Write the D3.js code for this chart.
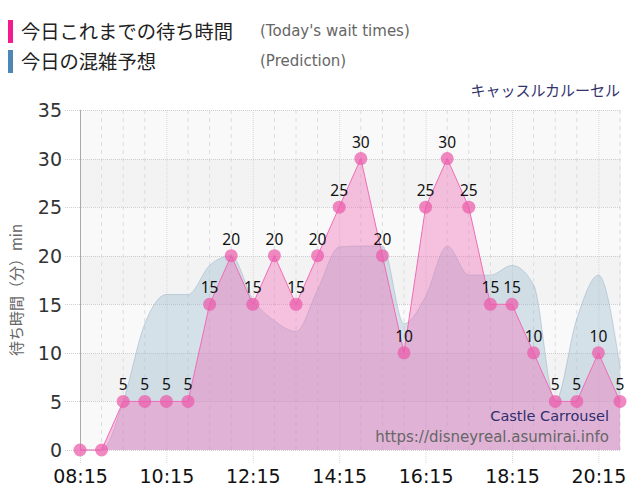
<!DOCTYPE html>
<html><head><meta charset="utf-8">
<script src="https://cdn.jsdelivr.net/npm/d3@7"></script>
<style>
html,body{margin:0;padding:0;background:#fff;}
svg{display:block;}
</style></head>
<body>
<svg id="chart" width="640" height="500"></svg>
<script>
const times = ["08:15","08:45","09:15","09:45","10:15","10:45","11:15","11:45","12:15","12:45","13:15","13:45","14:15","14:45","15:15","15:45","16:15","16:45","17:15","17:45","18:15","18:45","19:15","19:45","20:15","20:45"];
const actual = [0,0,5,5,5,5,15,20,15,20,15,20,25,30,20,10,25,30,25,15,15,10,5,5,10,5];
const prediction = [0,0,5,13,16,16,19,20,15.5,13.3,12.2,16.5,20.9,21,21,13,15.8,21,18,18,19,17,5,13.5,18,8.5];
const tickLabels = ["08:15","10:15","12:15","14:15","16:15","18:15","20:15"];
const yTicks = [0,5,10,15,20,25,30,35];

const svg = d3.select("#chart");
const parse = d3.timeParse("%H:%M");
const L = 80, R = 621, T = 110, B = 450;
const x = d3.scaleTime().domain([parse("08:15"), parse("20:45")]).range([80, 620]);
const y = d3.scaleLinear().domain([0, 35]).range([B, T]);

// background bands
const g = svg.append("g");
g.selectAll("rect.band").data(d3.range(0, 35, 5)).join("rect")
  .attr("x", L).attr("width", R - L)
  .attr("y", d => y(d + 5)).attr("height", d => y(d) - y(d + 5))
  .attr("fill", d => (d / 5) % 2 === 0 ? "#f9f9f9" : "#f3f3f3");

// minor vertical grid
g.selectAll("line.vmin").data(times.filter(t => !tickLabels.includes(t))).join("line")
  .attr("x1", d => x(parse(d))).attr("x2", d => x(parse(d)))
  .attr("y1", T).attr("y2", B)
  .attr("stroke", "#dcdcdc").attr("stroke-dasharray", "4,4").attr("stroke-width", 1);
// major vertical grid
g.selectAll("line.vmaj").data(tickLabels).join("line")
  .attr("x1", d => x(parse(d)) + 0.5).attr("x2", d => x(parse(d)) + 0.5)
  .attr("y1", T).attr("y2", B + 14)
  .attr("stroke", "#d8d8d8").attr("stroke-dasharray", "1,1").attr("stroke-width", 1);
// horizontal grid
g.selectAll("line.h").data(yTicks).join("line")
  .attr("x1", 65).attr("x2", R)
  .attr("y1", d => Math.round(y(d)) + 0.5).attr("y2", d => Math.round(y(d)) + 0.5)
  .attr("stroke", "#cfcfcf").attr("stroke-dasharray", "1,1");

// left axis line
svg.append("line").attr("x1", L + 0.5).attr("x2", L + 0.5).attr("y1", T).attr("y2", B)
  .attr("stroke", "#aaa");

// prediction area
const predArea = d3.area().curve(d3.curveMonotoneX)
  .x((d, i) => x(parse(times[i]))).y0(B).y1(d => y(d));
const predLine = d3.line().curve(d3.curveMonotoneX)
  .x((d, i) => x(parse(times[i]))).y(d => y(d));
svg.append("path").datum(prediction).attr("d", predArea)
  .attr("fill", "rgba(150,184,204,0.36)");
svg.append("path").datum(prediction).attr("d", predLine)
  .attr("fill", "none").attr("stroke", "rgba(150,178,196,0.5)").attr("stroke-width", 1);

// actual area
const actArea = d3.area().x((d, i) => x(parse(times[i]))).y0(B).y1(d => y(d));
const actLine = d3.line().x((d, i) => x(parse(times[i]))).y(d => y(d));
svg.append("path").datum(actual).attr("d", actArea)
  .attr("fill", "rgba(240,110,185,0.4)");
svg.append("path").datum(actual).attr("d", actLine)
  .attr("fill", "none").attr("stroke", "#f06cb6").attr("stroke-width", 1);

// points
svg.selectAll("circle.pt").data(actual).join("circle")
  .attr("cx", (d, i) => x(parse(times[i]))).attr("cy", d => y(d))
  .attr("r", 6.5).attr("fill", "rgba(236,90,170,0.72)");

// labels
svg.selectAll("text.lbl").data(actual.map((v, i) => ({v, t: times[i]})).filter(d => d.v > 0)).join("text")
  .attr("x", d => x(parse(d.t))).attr("y", d => y(d.v) - 11)
  .attr("text-anchor", "middle").attr("font-family", "Noto Sans, sans-serif")
  .attr("font-size", 15.5).attr("fill", "#111").text(d => d.v);

// axes labels
const xAxis = d3.axisBottom(x).tickValues(tickLabels.map(parse)).tickFormat(d3.timeFormat("%H:%M")).tickSize(0);
const xg = svg.append("g").attr("transform", `translate(0,${B})`).call(xAxis);
xg.select(".domain").remove();
xg.selectAll("text").attr("font-family", "DejaVu Sans, sans-serif").attr("font-size", 19)
  .attr("fill", "#111").attr("dy", "0").attr("y", 33);

const yAxis = d3.axisLeft(y).tickValues(yTicks).tickSize(0);
const yg = svg.append("g").attr("transform", `translate(62,0)`).call(yAxis);
yg.select(".domain").remove();
yg.selectAll("text").attr("font-family", "DejaVu Sans, sans-serif").attr("font-size", 19)
  .attr("fill", "#333").attr("x", 0).attr("dy", "0.36em");

// y title
svg.append("text").attr("transform", "translate(22,290) rotate(-90)")
  .attr("text-anchor", "middle").attr("font-family", "Noto Sans CJK JP, sans-serif")
  .attr("font-size", 15).attr("fill", "#666").text("待ち時間（分）min");

// legend
svg.append("rect").attr("x", 8).attr("y", 20).attr("width", 5).attr("height", 23).attr("fill", "#f31c8f");
svg.append("rect").attr("x", 8).attr("y", 50).attr("width", 5).attr("height", 23).attr("fill", "#4f86b8");
svg.append("text").attr("x", 21).attr("y", 39).attr("font-family", "Noto Sans CJK JP, sans-serif")
  .attr("font-size", 19.3).attr("fill", "#222").text("今日これまでの待ち時間");
svg.append("text").attr("x", 21).attr("y", 69).attr("font-family", "Noto Sans CJK JP, sans-serif")
  .attr("font-size", 19.3).attr("fill", "#222").text("今日の混雑予想");
svg.append("text").attr("x", 260).attr("y", 36).attr("font-family", "DejaVu Sans, sans-serif")
  .attr("font-size", 15).attr("fill", "#666").text("(Today's wait times)");
svg.append("text").attr("x", 260).attr("y", 66).attr("font-family", "DejaVu Sans, sans-serif")
  .attr("font-size", 15).attr("fill", "#666").text("(Prediction)");

svg.append("text").attr("x", 620).attr("y", 96).attr("text-anchor", "end")
  .attr("font-family", "Noto Sans CJK JP, sans-serif").attr("font-size", 15)
  .attr("fill", "#33336e").text("キャッスルカルーセル");

svg.append("text").attr("x", 609).attr("y", 421).attr("text-anchor", "end")
  .attr("font-family", "DejaVu Sans, sans-serif").attr("font-size", 14.5)
  .attr("fill", "#2e2e6e").text("Castle Carrousel");
svg.append("text").attr("x", 609).attr("y", 442).attr("text-anchor", "end")
  .attr("font-family", "DejaVu Sans, sans-serif").attr("font-size", 15)
  .attr("fill", "#666").text("https://disneyreal.asumirai.info");
</script>
</body></html>
